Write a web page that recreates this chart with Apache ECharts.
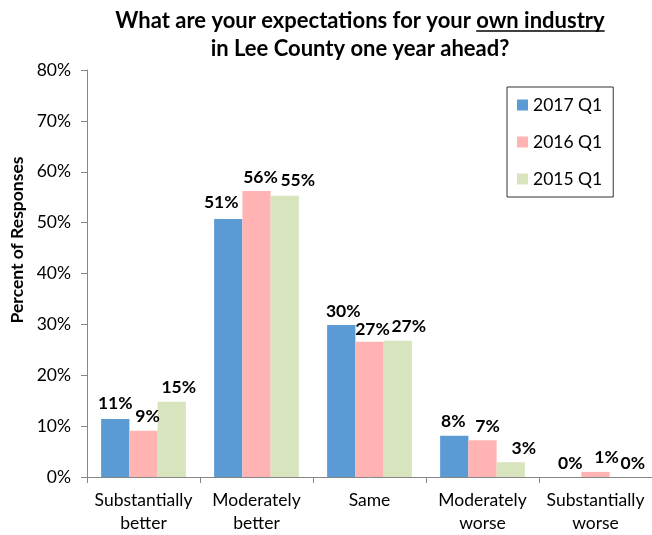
<!DOCTYPE html>
<html>
<head>
<meta charset="utf-8">
<script src="https://cdn.jsdelivr.net/npm/echarts@6/dist/echarts.min.js"></script>
<style>
  html, body { margin: 0; padding: 0; background: #fff; }
  #chart { width: 652px; height: 535px; }
</style>
</head>
<body>
<div id="chart"></div>
<script>
// Survey answers: expectations for own industry one year ahead
const categories = ['Substantially\nbetter', 'Moderately\nbetter', 'Same', 'Moderately\nworse', 'Substantially\nworse'];
const seriesNames = ['2017 Q1', '2016 Q1', '2015 Q1'];
const values2017 = [11.4, 50.7, 29.9, 8.1, 0];
const values2016 = [9.1, 56.2, 26.6, 7.2, 1.0];
const values2015 = [14.8, 55.3, 26.8, 2.9, 0];
const yTicks = [0, 10, 20, 30, 40, 50, 60, 70, 80];

const colors = ['#5B9BD5', '#FFB3B3', '#D7E4BD'];
const FONT = 'Lato, "Open Sans", sans-serif';
const TEXT_SIZE = 17.5;

// small [dx, dy] nudges so neighbouring value labels don't collide
const labelNudges = [
  [[0, -2], [-7, -3], [2, 0], [-1, 0], [3, 0]],
  [[4, 0], [4, 0], [3, 2], [5, 0], [11, -1]],
  [[7, 0], [13, -1], [11, 0], [13, 0], [9, 0]]
];

const titleLine1 = 'What are your expectations for your own industry';
const titleLine1Prefix = 'What are your expectations for your ';
const titleLine2 = 'in Lee County one year ahead?';
const titleCenterX = 360;
const titleTop = 7;
const titleFontSize = 22;
const titleLineHeight = 28;

// measure text so the underline sits under "own industry"
const ctx = document.createElement('canvas').getContext('2d');
ctx.font = 'bold ' + titleFontSize + 'px ' + FONT;
const fullW = ctx.measureText(titleLine1).width;
const prefixW = ctx.measureText(titleLine1Prefix).width;
const ulX1 = titleCenterX - fullW / 2 + prefixW;
const ulX2 = titleCenterX + fullW / 2;
const ulY = titleTop + 24;

const dataSets = [values2017, values2016, values2015];

const chart = echarts.init(document.getElementById('chart'), null, { renderer: 'canvas' });
chart.setOption({
  backgroundColor: '#fff',
  animation: false,
  textStyle: { fontFamily: FONT },
  title: {
    text: titleLine1 + '\n' + titleLine2,
    left: titleCenterX,
    top: titleTop,
    textAlign: 'center',
    padding: 0,
    textStyle: {
      fontFamily: FONT,
      fontSize: titleFontSize,
      fontWeight: 'bold',
      color: '#000',
      lineHeight: titleLineHeight
    }
  },
  graphic: [{
    type: 'line',
    shape: { x1: ulX1, y1: ulY, x2: ulX2, y2: ulY },
    style: { stroke: '#000', lineWidth: 1.5 }
  }, {
    // value axis title, rotated
    type: 'text',
    x: 17,
    y: 240,
    rotation: Math.PI / 2,
    style: {
      text: 'Percent of Responses',
      font: 'bold ' + TEXT_SIZE + 'px ' + FONT,
      fill: '#000',
      align: 'center',
      verticalAlign: 'middle'
    }
  }],
  legend: {
    orient: 'vertical',
    left: 507,
    top: 87,
    data: seriesNames,
    itemWidth: 11,
    itemHeight: 11,
    itemGap: 17,
    itemStyle: { borderWidth: 0 },
    padding: [8, 11, 8, 10],
    borderColor: '#333',
    borderWidth: 1,
    icon: 'rect',
    textStyle: { fontFamily: FONT, fontSize: TEXT_SIZE, color: '#000', lineHeight: 20 }
  },
  grid: { left: 87, right: 0, top: 70, bottom: 58, containLabel: false },
  xAxis: {
    type: 'category',
    data: categories,
    axisLine: { lineStyle: { color: '#868686', width: 1 } },
    axisTick: { show: true, alignWithLabel: false, length: 6, lineStyle: { color: '#868686' } },
    axisLabel: { color: '#000', fontSize: TEXT_SIZE, fontFamily: FONT, lineHeight: 23, margin: 12, interval: 0 }
  },
  yAxis: {
    type: 'value',
    min: yTicks[0],
    max: yTicks[yTicks.length - 1],
    interval: 10,
    axisLine: { show: true, lineStyle: { color: '#868686', width: 1 } },
    axisTick: { show: true, length: 6, lineStyle: { color: '#868686' } },
    splitLine: { show: false },
    axisLabel: { color: '#000', fontSize: TEXT_SIZE, fontFamily: FONT, margin: 16, formatter: v => v + '%' }
  },
  series: seriesNames.map((name, i) => ({
    name: name,
    type: 'bar',
    data: dataSets[i].map((v, j) => ({ value: v, label: { offset: labelNudges[i][j] } })),
    barGap: '0%',
    barCategoryGap: '25%',
    itemStyle: { color: colors[i] },
    label: {
      show: true,
      position: 'top',
      distance: 5,
      fontFamily: FONT,
      fontSize: TEXT_SIZE,
      fontWeight: 'bold',
      color: '#000',
      formatter: p => Math.round(p.value) + '%'
    }
  }))
});
</script>
</body>
</html>
